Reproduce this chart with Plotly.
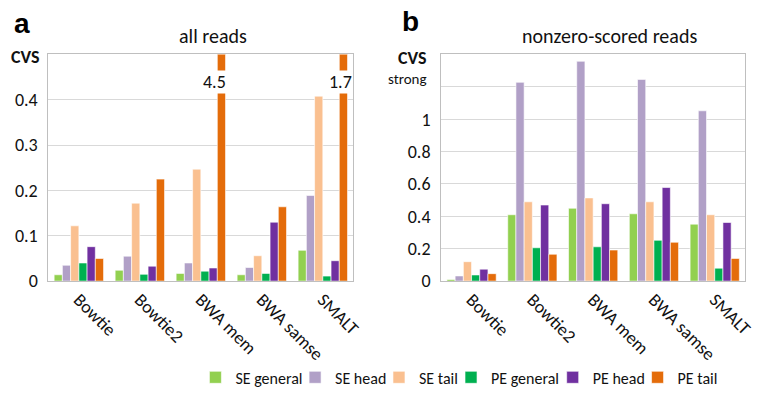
import plotly.graph_objects as go

categories = ["Bowtie", "Bowtie2", "BWA mem", "BWA samse", "SMALT"]
series_names = ["SE general", "SE head", "SE tail", "PE general", "PE head", "PE tail"]
colors = ["#92D050", "#B1A0C7", "#FAC090", "#00B050", "#7030A0", "#E46C0A"]

# panel a: all reads (CVS)
a_se_general = [0.014, 0.024, 0.017, 0.014, 0.068]
a_se_head = [0.035, 0.055, 0.040, 0.030, 0.189]
a_se_tail = [0.122, 0.172, 0.247, 0.056, 0.408]
a_pe_general = [0.040, 0.015, 0.022, 0.017, 0.011]
a_pe_head = [0.076, 0.033, 0.029, 0.130, 0.045]
a_pe_tail = [0.050, 0.225, 4.5, 0.164, 1.7]

# panel b: nonzero-scored reads (CVS strong)
b_se_general = [0.010, 0.410, 0.450, 0.416, 0.352]
b_se_head = [0.032, 1.228, 1.358, 1.246, 1.052]
b_se_tail = [0.120, 0.490, 0.514, 0.490, 0.410]
b_pe_general = [0.038, 0.206, 0.212, 0.252, 0.080]
b_pe_head = [0.074, 0.470, 0.478, 0.578, 0.362]
b_pe_tail = [0.046, 0.166, 0.192, 0.240, 0.140]

a_ticks = [0, 0.1, 0.2, 0.3, 0.4]
a_ticktext = ["0", "0.1", "0.2", "0.3", "0.4"]
b_ticks = [0, 0.2, 0.4, 0.6, 0.8, 1.0, 1.2]
b_ticktext = ["0", "0.2", "0.4", "0.6", "0.8", "1", ""]

panel_a = [a_se_general, a_se_head, a_se_tail, a_pe_general, a_pe_head, a_pe_tail]
panel_b = [b_se_general, b_se_head, b_se_tail, b_pe_general, b_pe_head, b_pe_tail]

FONT = "Carlito, Lato, sans-serif"
W, H = 765, 403

fig = go.Figure()
for i, name in enumerate(series_names):
    lg = "legend" if i == 0 else f"legend{i+1}"
    fig.add_trace(go.Bar(x=categories, y=panel_a[i], name=name, marker_color=colors[i],
                         marker_line=dict(color="white", width=0.6),
                         xaxis="x", yaxis="y", legend=lg, showlegend=True))
    fig.add_trace(go.Bar(x=categories, y=panel_b[i], name=name, marker_color=colors[i],
                         marker_line=dict(color="white", width=0.6),
                         xaxis="x2", yaxis="y2", showlegend=False))

def py(px):
    return 1 - px / H

def pxx(px):
    return px / W

axis_common = dict(showline=True, linecolor="#BFBFBF", linewidth=1, mirror=True,
                   tickfont=dict(family=FONT, size=18, color="#111"))
layout = dict(
    width=W, height=H, margin=dict(l=0, r=0, t=0, b=0),
    paper_bgcolor="white", plot_bgcolor="white",
    barmode="group", bargap=0.19, bargroupgap=0,
    font=dict(family=FONT, color="#111"),
    xaxis=dict(domain=[pxx(49), pxx(358)], anchor="y", tickangle=45, ticks="",
               showgrid=False, **axis_common),
    yaxis=dict(domain=[py(289), py(56)], anchor="x", range=[0, 0.5], tickvals=a_ticks,
               ticktext=a_ticktext, showgrid=True, gridcolor="#D9D9D9", ticks="",
               ticklabelstandoff=6, zeroline=False, **axis_common),
    xaxis2=dict(domain=[pxx(447), pxx(755)], anchor="y2", tickangle=45, ticks="",
                showgrid=False, **axis_common),
    yaxis2=dict(domain=[py(289), py(56)], anchor="x2", range=[0, 1.4], tickvals=b_ticks,
                ticktext=b_ticktext, showgrid=True, gridcolor="#D9D9D9", ticks="",
                ticklabelstandoff=6, zeroline=False, **axis_common),
)
legend_x = [198, 299, 384, 457, 560, 646]
for i in range(6):
    key = "legend" if i == 0 else f"legend{i+1}"
    layout[key] = dict(orientation="h", x=pxx(legend_x[i]), xanchor="left",
                       y=py(388), yanchor="middle", bgcolor="rgba(0,0,0,0)",
                       font=dict(family=FONT, size=16, color="#111"), itemwidth=30)
fig.update_layout(**layout)

ann = []
ann.append(dict(text="<b>a</b>", x=pxx(12), y=py(24), xref="paper", yref="paper",
                xanchor="left", yanchor="middle", showarrow=False,
                font=dict(family="Liberation Sans, Arial", size=28, color="black")))
ann.append(dict(text="<b>b</b>", x=pxx(405), y=py(22), xref="paper", yref="paper",
                xanchor="left", yanchor="middle", showarrow=False,
                font=dict(family="Liberation Sans, Arial", size=28, color="black")))
ann.append(dict(text="all reads", x=pxx(216), y=py(37), xref="paper", yref="paper",
                xanchor="center", yanchor="middle", showarrow=False,
                font=dict(family=FONT, size=20, color="#111")))
ann.append(dict(text="nonzero-scored reads", x=pxx(618), y=py(37), xref="paper", yref="paper",
                xanchor="center", yanchor="middle", showarrow=False,
                font=dict(family=FONT, size=20, color="#111")))
ann.append(dict(text="<b>CVS</b>", x=pxx(43), y=py(59), xref="paper", yref="paper",
                xanchor="right", yanchor="middle", showarrow=False,
                font=dict(family=FONT, size=18, color="#111")))
ann.append(dict(text="<b>CVS</b>", x=pxx(435), y=py(60), xref="paper", yref="paper",
                xanchor="right", yanchor="middle", showarrow=False,
                font=dict(family=FONT, size=18, color="#111")))
ann.append(dict(text="strong", x=pxx(435), y=py(81), xref="paper", yref="paper",
                xanchor="right", yanchor="middle", showarrow=False,
                font=dict(family=FONT, size=15, color="#111")))
# broken-bar labels for values beyond the axis range
for cat, val, shift in [(categories[2], a_pe_tail[2], 26), (categories[4], a_pe_tail[4], 30)]:
    ann.append(dict(text=f"{val:g}", x=cat, y=0.44, xref="x", yref="y",
                    xanchor="right", yanchor="middle", xshift=shift, showarrow=False,
                    bgcolor="white", borderpad=0,
                    font=dict(family=FONT, size=18, color="#111")))
fig.update_layout(annotations=ann)

fig.write_html("out.html", config={"displayModeBar": False},
               post_script="document.body.style.margin='0px';")
